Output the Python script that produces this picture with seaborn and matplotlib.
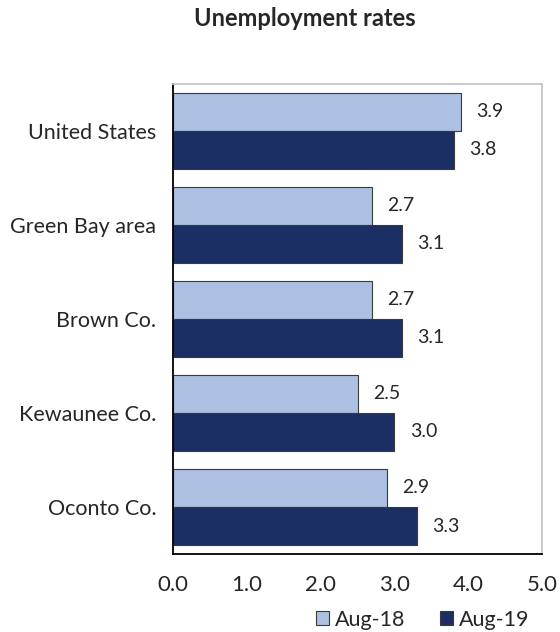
import pandas as pd
import matplotlib.pyplot as plt
import seaborn as sns

sns.set_theme(style="white")
plt.rcParams["font.family"] = ["Lato", "DejaVu Sans"]

# ---------------------------------------------------------
# Data
# ---------------------------------------------------------
areas = ["United States", "Green Bay area", "Brown Co.", "Kewaunee Co.", "Oconto Co."]
aug18 = [3.9, 2.7, 2.7, 2.5, 2.9]
aug19 = [3.8, 3.1, 3.1, 3.0, 3.3]
periods = ["Aug-18", "Aug-19"]

df = pd.DataFrame({
    "Area": areas * 2,
    "Rate": aug18 + aug19,
    "Period": [periods[0]] * len(areas) + [periods[1]] * len(areas),
})

colors = {"Aug-18": "#a3bfea", "Aug-19": "#102a70"}

# ---------------------------------------------------------
# Plot
# ---------------------------------------------------------
fig = plt.figure(figsize=(5.6, 6.32), dpi=100)
ax = fig.add_axes([0.309, 0.1234, 0.659, 0.744])

sns.barplot(data=df, y="Area", x="Rate", hue="Period", order=areas,
            hue_order=periods, palette=colors, width=0.81, orient="h",
            edgecolor="#3a3a3a", linewidth=0.8, ax=ax)

for container in ax.containers:
    ax.bar_label(container, fmt="%.1f", padding=11, fontsize=14)

ax.set_xlim(0, 5)
ax.set_xticks([0, 1, 2, 3, 4, 5])
ax.set_xticklabels([f"{v:.1f}" for v in range(6)], fontsize=16)
ax.tick_params(axis="x", direction="inout", length=14, width=1.2, color="black", pad=8)
ax.tick_params(axis="y", length=0, labelsize=15.5, pad=12)
ax.set_xlabel("")
ax.set_ylabel("")

ax.spines["left"].set_color("black")
ax.spines["bottom"].set_color("black")
ax.spines["left"].set_linewidth(1.3)
ax.spines["bottom"].set_linewidth(1.3)
ax.spines["right"].set_color("#c4c4c4")
ax.spines["top"].set_color("#c4c4c4")

ax.legend(loc="center right", bbox_to_anchor=(0.99, -0.14), ncol=2, frameon=False,
          fontsize=15.5, handlelength=0.6, handleheight=0.6, handletextpad=0.3,
          columnspacing=1.6, borderaxespad=0)

fig.text(0.545, 0.97, "Unemployment rates", ha="center", va="center",
         fontsize=17, fontweight="bold")

fig.savefig("out.png", dpi=100)
